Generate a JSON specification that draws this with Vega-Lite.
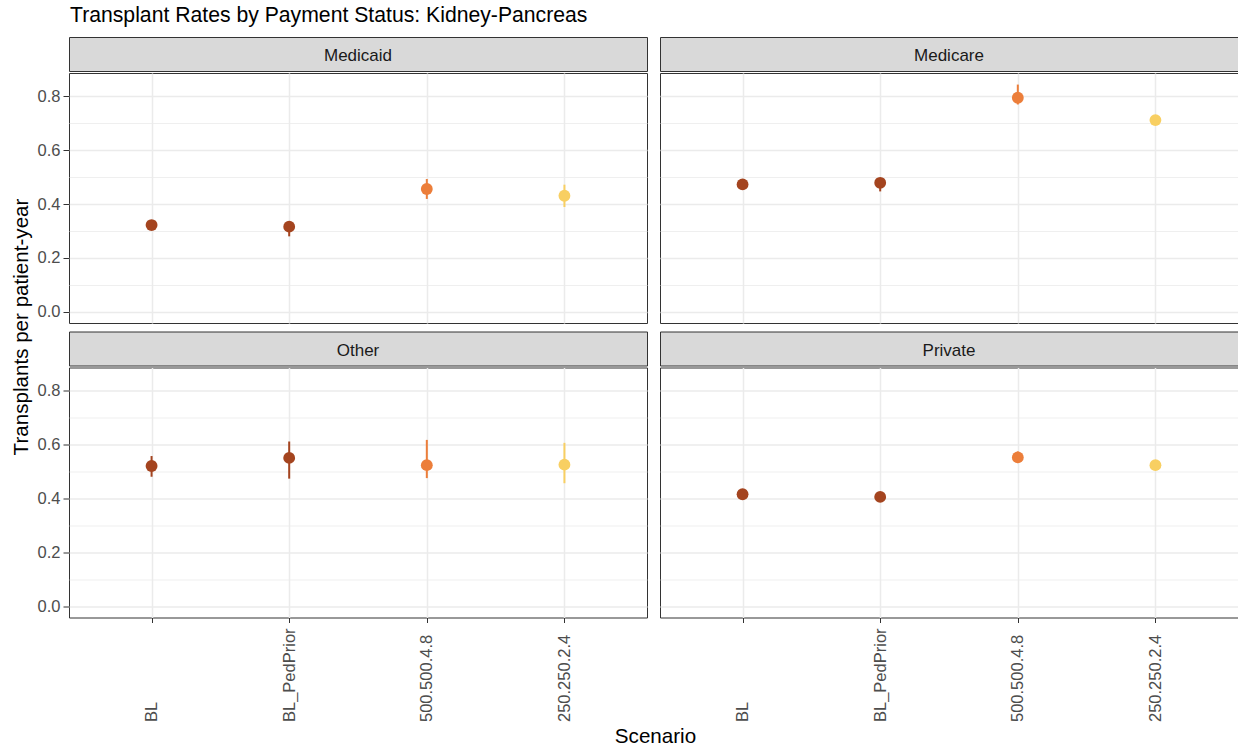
{
  "$schema": "https://vega.github.io/schema/vega-lite/v6.json",
  "background": "white",
  "padding": {"left": 12, "top": 5, "right": 1, "bottom": 2},
  "title": {"text": "Transplant Rates by Payment Status: Kidney-Pancreas", "anchor": "start", "fontSize": 21.2, "fontWeight": "normal", "font": "Liberation Sans", "color": "#000000", "dx": 58, "offset": 10},
  "datasets": {
    "rates": [
      {"payer": "Medicaid", "scenario": "BL", "rate": 0.322, "lower": 0.310, "upper": 0.334},
      {"payer": "Medicaid", "scenario": "BL_PedPrior", "rate": 0.316, "lower": 0.280, "upper": 0.330},
      {"payer": "Medicaid", "scenario": "500.500.4.8", "rate": 0.456, "lower": 0.419, "upper": 0.493},
      {"payer": "Medicaid", "scenario": "250.250.2.4", "rate": 0.431, "lower": 0.389, "upper": 0.472},
      {"payer": "Medicare", "scenario": "BL", "rate": 0.473, "lower": 0.462, "upper": 0.486},
      {"payer": "Medicare", "scenario": "BL_PedPrior", "rate": 0.479, "lower": 0.447, "upper": 0.492},
      {"payer": "Medicare", "scenario": "500.500.4.8", "rate": 0.795, "lower": 0.770, "upper": 0.844},
      {"payer": "Medicare", "scenario": "250.250.2.4", "rate": 0.712, "lower": 0.700, "upper": 0.725},
      {"payer": "Other", "scenario": "BL", "rate": 0.521, "lower": 0.481, "upper": 0.558},
      {"payer": "Other", "scenario": "BL_PedPrior", "rate": 0.551, "lower": 0.474, "upper": 0.612},
      {"payer": "Other", "scenario": "500.500.4.8", "rate": 0.524, "lower": 0.476, "upper": 0.618},
      {"payer": "Other", "scenario": "250.250.2.4", "rate": 0.526, "lower": 0.457, "upper": 0.607},
      {"payer": "Private", "scenario": "BL", "rate": 0.416, "lower": 0.405, "upper": 0.428},
      {"payer": "Private", "scenario": "BL_PedPrior", "rate": 0.406, "lower": 0.395, "upper": 0.418},
      {"payer": "Private", "scenario": "500.500.4.8", "rate": 0.553, "lower": 0.535, "upper": 0.575},
      {"payer": "Private", "scenario": "250.250.2.4", "rate": 0.524, "lower": 0.512, "upper": 0.537}
    ]
  },
  "spacing": 5,
  "vconcat": [
    {
      "spacing": 3,
      "hconcat": [
        {
          "width": 16, "height": 580,
          "view": {"stroke": null},
          "data": {"values": [{"t": "Transplants per patient-year"}]},
          "mark": {"type": "text", "angle": 270, "fontSize": 20.6, "font": "Liberation Sans", "color": "#000000", "baseline": "middle", "align": "center"},
          "encoding": {"text": {"field": "t"}}
        },
        {
          "columns": 2,
          "align": "each",
          "spacing": {"row": 6.5, "column": 11},
          "concat": [
            {
              "spacing": 0,
              "vconcat": [
                {"width": 578, "height": 34, "view": {"fill": "#D9D9D9", "stroke": "#333333"}, "data": {"values": [{"payer": "Medicaid"}]},
                 "mark": {"type": "text", "fontSize": 17, "dy": 2, "font": "Liberation Sans", "color": "#1A1A1A"}, "encoding": {"text": {"field": "payer"}}},
                {
                  "width": 578, "height": 250, "view": {"stroke": "#333333"},
                  "data": {"name": "rates"},
                  "transform": [{"filter": "datum.payer === 'Medicaid'"}],
                  "encoding": {
                    "x": {"field": "scenario", "type": "nominal", "title": null, "scale": {"type": "point", "domain": ["BL", "BL_PedPrior", "500.500.4.8", "250.250.2.4"], "padding": 0.6},
                          "axis": {"grid": true, "gridColor": "#EBEBEB", "gridWidth": 1.5, "labels": false, "ticks": false, "domain": false, "title": null}},
                    "color": {"field": "scenario", "type": "nominal", "legend": null, "scale": {"domain": ["BL", "BL_PedPrior", "500.500.4.8", "250.250.2.4"], "range": ["#A4441F", "#A4441F", "#EC7E3A", "#F8CF62"]}}
                  },
                  "layer": [
                    {"mark": {"type": "rule", "strokeWidth": 2},
                     "encoding": {"y": {"field": "lower", "type": "quantitative", "title": null, "scale": {"domain": [-0.042, 0.887], "nice": false, "zero": false},
                       "axis": {"values": [0, 0.1, 0.2, 0.3, 0.4, 0.5, 0.6, 0.7, 0.8], "labelExpr": "round(datum.value*10)%2==0 ? format(datum.value,'.1f') : ''", "grid": true, "gridColor": "#EBEBEB", "gridWidth": {"condition": {"test": "round(datum.value*10)%2==0", "value": 1.5}, "value": 0.8}, "tickOpacity": {"condition": {"test": "round(datum.value*10)%2==0", "value": 1}, "value": 0}, "tickColor": "#333333", "tickSize": 6, "tickWidth": 1, "domain": false, "labelColor": "#4D4D4D", "labelFontSize": 16.5, "labelFont": "Liberation Sans", "labelPadding": 3, "title": null}},
                       "y2": {"field": "upper"}}},
                    {"mark": {"type": "circle", "size": 140, "opacity": 1},
                     "encoding": {"y": {"field": "rate", "type": "quantitative", "title": null, "scale": {"domain": [-0.042, 0.887], "nice": false, "zero": false},
                       "axis": {"values": [0, 0.1, 0.2, 0.3, 0.4, 0.5, 0.6, 0.7, 0.8], "labelExpr": "round(datum.value*10)%2==0 ? format(datum.value,'.1f') : ''", "grid": true, "gridColor": "#EBEBEB", "gridWidth": {"condition": {"test": "round(datum.value*10)%2==0", "value": 1.5}, "value": 0.8}, "tickOpacity": {"condition": {"test": "round(datum.value*10)%2==0", "value": 1}, "value": 0}, "tickColor": "#333333", "tickSize": 6, "tickWidth": 1, "domain": false, "labelColor": "#4D4D4D", "labelFontSize": 16.5, "labelFont": "Liberation Sans", "labelPadding": 3, "title": null}}}}
                  ]
                }
              ]
            },
            {
              "spacing": 0,
              "vconcat": [
                {"width": 578, "height": 34, "view": {"fill": "#D9D9D9", "stroke": "#333333"}, "data": {"values": [{"payer": "Medicare"}]},
                 "mark": {"type": "text", "fontSize": 17, "dy": 2, "font": "Liberation Sans", "color": "#1A1A1A"}, "encoding": {"text": {"field": "payer"}}},
                {
                  "width": 578, "height": 250, "view": {"stroke": "#333333"},
                  "data": {"name": "rates"},
                  "transform": [{"filter": "datum.payer === 'Medicare'"}],
                  "encoding": {
                    "x": {"field": "scenario", "type": "nominal", "title": null, "scale": {"type": "point", "domain": ["BL", "BL_PedPrior", "500.500.4.8", "250.250.2.4"], "padding": 0.6},
                          "axis": {"grid": true, "gridColor": "#EBEBEB", "gridWidth": 1.5, "labels": false, "ticks": false, "domain": false, "title": null}},
                    "color": {"field": "scenario", "type": "nominal", "legend": null, "scale": {"domain": ["BL", "BL_PedPrior", "500.500.4.8", "250.250.2.4"], "range": ["#A4441F", "#A4441F", "#EC7E3A", "#F8CF62"]}}
                  },
                  "layer": [
                    {"mark": {"type": "rule", "strokeWidth": 2},
                     "encoding": {"y": {"field": "lower", "type": "quantitative", "title": null, "scale": {"domain": [-0.042, 0.887], "nice": false, "zero": false},
                       "axis": {"values": [0, 0.1, 0.2, 0.3, 0.4, 0.5, 0.6, 0.7, 0.8], "labels": false, "ticks": false, "grid": true, "gridColor": "#EBEBEB", "gridWidth": {"condition": {"test": "round(datum.value*10)%2==0", "value": 1.5}, "value": 0.8}, "domain": false, "title": null}},
                       "y2": {"field": "upper"}}},
                    {"mark": {"type": "circle", "size": 140, "opacity": 1},
                     "encoding": {"y": {"field": "rate", "type": "quantitative", "title": null, "scale": {"domain": [-0.042, 0.887], "nice": false, "zero": false},
                       "axis": {"values": [0, 0.1, 0.2, 0.3, 0.4, 0.5, 0.6, 0.7, 0.8], "labels": false, "ticks": false, "grid": true, "gridColor": "#EBEBEB", "gridWidth": {"condition": {"test": "round(datum.value*10)%2==0", "value": 1.5}, "value": 0.8}, "domain": false, "title": null}}}}
                  ]
                }
              ]
            },
            {
              "spacing": 0,
              "vconcat": [
                {"width": 578, "height": 34, "view": {"fill": "#D9D9D9", "stroke": "#333333"}, "data": {"values": [{"payer": "Other"}]},
                 "mark": {"type": "text", "fontSize": 17, "dy": 2, "font": "Liberation Sans", "color": "#1A1A1A"}, "encoding": {"text": {"field": "payer"}}},
                {
                  "width": 578, "height": 250, "view": {"stroke": "#333333"},
                  "data": {"name": "rates"},
                  "transform": [{"filter": "datum.payer === 'Other'"}],
                  "encoding": {
                    "x": {"field": "scenario", "type": "nominal", "title": null, "scale": {"type": "point", "domain": ["BL", "BL_PedPrior", "500.500.4.8", "250.250.2.4"], "padding": 0.6},
                          "axis": {"grid": true, "gridColor": "#EBEBEB", "gridWidth": 1.5, "domain": false, "ticks": true, "tickColor": "#333333", "tickSize": 5, "tickWidth": 1, "labelAngle": 270, "labelAlign": "left", "labelBaseline": "middle", "labelPadding": 99, "labelColor": "#4D4D4D", "labelFontSize": 16.5, "labelFont": "Liberation Sans", "title": null}},
                    "color": {"field": "scenario", "type": "nominal", "legend": null, "scale": {"domain": ["BL", "BL_PedPrior", "500.500.4.8", "250.250.2.4"], "range": ["#A4441F", "#A4441F", "#EC7E3A", "#F8CF62"]}}
                  },
                  "layer": [
                    {"mark": {"type": "rule", "strokeWidth": 2},
                     "encoding": {"y": {"field": "lower", "type": "quantitative", "title": null, "scale": {"domain": [-0.042, 0.887], "nice": false, "zero": false},
                       "axis": {"values": [0, 0.1, 0.2, 0.3, 0.4, 0.5, 0.6, 0.7, 0.8], "labelExpr": "round(datum.value*10)%2==0 ? format(datum.value,'.1f') : ''", "grid": true, "gridColor": "#EBEBEB", "gridWidth": {"condition": {"test": "round(datum.value*10)%2==0", "value": 1.5}, "value": 0.8}, "tickOpacity": {"condition": {"test": "round(datum.value*10)%2==0", "value": 1}, "value": 0}, "tickColor": "#333333", "tickSize": 6, "tickWidth": 1, "domain": false, "labelColor": "#4D4D4D", "labelFontSize": 16.5, "labelFont": "Liberation Sans", "labelPadding": 3, "title": null}},
                       "y2": {"field": "upper"}}},
                    {"mark": {"type": "circle", "size": 140, "opacity": 1},
                     "encoding": {"y": {"field": "rate", "type": "quantitative", "title": null, "scale": {"domain": [-0.042, 0.887], "nice": false, "zero": false},
                       "axis": {"values": [0, 0.1, 0.2, 0.3, 0.4, 0.5, 0.6, 0.7, 0.8], "labelExpr": "round(datum.value*10)%2==0 ? format(datum.value,'.1f') : ''", "grid": true, "gridColor": "#EBEBEB", "gridWidth": {"condition": {"test": "round(datum.value*10)%2==0", "value": 1.5}, "value": 0.8}, "tickOpacity": {"condition": {"test": "round(datum.value*10)%2==0", "value": 1}, "value": 0}, "tickColor": "#333333", "tickSize": 6, "tickWidth": 1, "domain": false, "labelColor": "#4D4D4D", "labelFontSize": 16.5, "labelFont": "Liberation Sans", "labelPadding": 3, "title": null}}}}
                  ]
                }
              ]
            },
            {
              "spacing": 0,
              "vconcat": [
                {"width": 578, "height": 34, "view": {"fill": "#D9D9D9", "stroke": "#333333"}, "data": {"values": [{"payer": "Private"}]},
                 "mark": {"type": "text", "fontSize": 17, "dy": 2, "font": "Liberation Sans", "color": "#1A1A1A"}, "encoding": {"text": {"field": "payer"}}},
                {
                  "width": 578, "height": 250, "view": {"stroke": "#333333"},
                  "data": {"name": "rates"},
                  "transform": [{"filter": "datum.payer === 'Private'"}],
                  "encoding": {
                    "x": {"field": "scenario", "type": "nominal", "title": null, "scale": {"type": "point", "domain": ["BL", "BL_PedPrior", "500.500.4.8", "250.250.2.4"], "padding": 0.6},
                          "axis": {"grid": true, "gridColor": "#EBEBEB", "gridWidth": 1.5, "domain": false, "ticks": true, "tickColor": "#333333", "tickSize": 5, "tickWidth": 1, "labelAngle": 270, "labelAlign": "left", "labelBaseline": "middle", "labelPadding": 99, "labelColor": "#4D4D4D", "labelFontSize": 16.5, "labelFont": "Liberation Sans", "title": null}},
                    "color": {"field": "scenario", "type": "nominal", "legend": null, "scale": {"domain": ["BL", "BL_PedPrior", "500.500.4.8", "250.250.2.4"], "range": ["#A4441F", "#A4441F", "#EC7E3A", "#F8CF62"]}}
                  },
                  "layer": [
                    {"mark": {"type": "rule", "strokeWidth": 2},
                     "encoding": {"y": {"field": "lower", "type": "quantitative", "title": null, "scale": {"domain": [-0.042, 0.887], "nice": false, "zero": false},
                       "axis": {"values": [0, 0.1, 0.2, 0.3, 0.4, 0.5, 0.6, 0.7, 0.8], "labels": false, "ticks": false, "grid": true, "gridColor": "#EBEBEB", "gridWidth": {"condition": {"test": "round(datum.value*10)%2==0", "value": 1.5}, "value": 0.8}, "domain": false, "title": null}},
                       "y2": {"field": "upper"}}},
                    {"mark": {"type": "circle", "size": 140, "opacity": 1},
                     "encoding": {"y": {"field": "rate", "type": "quantitative", "title": null, "scale": {"domain": [-0.042, 0.887], "nice": false, "zero": false},
                       "axis": {"values": [0, 0.1, 0.2, 0.3, 0.4, 0.5, 0.6, 0.7, 0.8], "labels": false, "ticks": false, "grid": true, "gridColor": "#EBEBEB", "gridWidth": {"condition": {"test": "round(datum.value*10)%2==0", "value": 1.5}, "value": 0.8}, "domain": false, "title": null}}}}
                  ]
                }
              ]
            }
          ]
        }
      ]
    },
    {
      "width": 1283, "height": 20,
      "view": {"stroke": null},
      "data": {"values": [{"t": "Scenario"}]},
      "mark": {"type": "text", "fontSize": 20.6, "font": "Liberation Sans", "color": "#000000", "baseline": "middle", "align": "center"},
      "encoding": {"text": {"field": "t"}}
    }
  ],
  "config": {"font": "Liberation Sans", "text": {"font": "Liberation Sans"}}
}
